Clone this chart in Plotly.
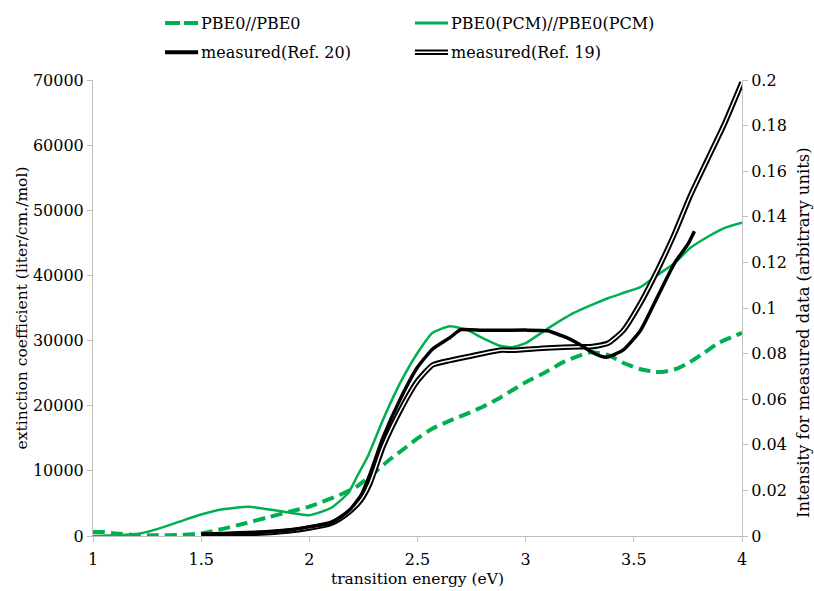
import plotly.graph_objects as go

# ---- data ----
pbe0_x = [1.0, 1.05, 1.1, 1.2, 1.3, 1.4, 1.5, 1.6, 1.71, 1.8, 1.94, 2.0, 2.14, 2.22, 2.3, 2.37,
          2.45, 2.5, 2.57, 2.65, 2.73, 2.8, 2.88, 2.94, 3.0, 3.1, 3.18, 3.25, 3.3, 3.38, 3.45,
          3.53, 3.6, 3.64, 3.7, 3.76, 3.82, 3.89, 4.0]
pbe0_y = [600, 600, 400, 150, 100, 150, 400, 1100, 2000, 2800, 4000, 4500, 6300, 7600, 9700, 11700,
          13700, 15000, 16500, 17700, 18800, 19800, 21200, 22400, 23600, 25300, 26800, 27700, 28200,
          27800, 26600, 25600, 25200, 25200, 25700, 26700, 28000, 29600, 31200]

pcm_x = [1.0, 1.1, 1.2, 1.3, 1.4, 1.5, 1.6, 1.72, 1.85, 2.0, 2.1, 2.18, 2.22, 2.27, 2.34, 2.42,
         2.5, 2.57, 2.65, 2.73, 2.8, 2.88, 2.94, 3.0, 3.1, 3.22, 3.3, 3.38, 3.45, 3.53, 3.61,
         3.69, 3.76, 3.84, 3.92, 4.0]
pcm_y = [0, 100, 300, 1100, 2200, 3300, 4100, 4500, 3900, 3200, 4300, 6600, 9100, 12200, 17800, 23500,
         28100, 31200, 32200, 31600, 30400, 29200, 29000, 29600, 31800, 34200, 35400, 36500, 37300,
         38200, 40100, 41900, 44200, 45900, 47300, 48100]

ref20_x = [1.5, 1.6, 1.7, 1.8, 1.9, 2.0, 2.1, 2.14, 2.19, 2.24, 2.28, 2.34, 2.42, 2.5, 2.57, 2.65,
           2.7, 2.8, 2.9, 3.0, 3.1, 3.19, 3.25, 3.3, 3.35, 3.38, 3.45, 3.53, 3.61, 3.69, 3.75, 3.78]
ref20_y = [0.0005, 0.0008, 0.0012, 0.0017, 0.0025, 0.004, 0.0058, 0.008, 0.0118, 0.018, 0.027, 0.043,
           0.060, 0.074, 0.082, 0.087, 0.0905, 0.0902, 0.0902, 0.0903, 0.0900, 0.087, 0.084, 0.081,
           0.0788, 0.0785, 0.0815, 0.090, 0.105, 0.120, 0.128, 0.1337]

ref19_x = [1.5, 1.6, 1.75, 1.9, 2.0, 2.1, 2.14, 2.19, 2.24, 2.28, 2.34, 2.42, 2.5, 2.57, 2.65, 2.73,
           2.88, 2.94, 3.1, 3.25, 3.3, 3.38, 3.45, 3.53, 3.61, 3.69, 3.76, 3.84, 3.92, 4.0]
ref19_y = [0.0004, 0.0007, 0.0012, 0.0022, 0.0035, 0.0055, 0.0075, 0.011, 0.016, 0.023, 0.039, 0.055,
           0.068, 0.075, 0.077, 0.0786, 0.0815, 0.0815, 0.0825, 0.083, 0.083, 0.0845, 0.090, 0.102,
           0.1167, 0.133, 0.149, 0.165, 0.181, 0.199]

legend_labels = ["PBE0//PBE0", "PBE0(PCM)//PBE0(PCM)", "measured(Ref. 20)", "measured(Ref. 19)"]

GREEN = "#00B050"
FONT = "DejaVu Serif"
AXIS_GREY = "#BFBFBF"
SM = 0.5

fig = go.Figure()
fig.add_trace(go.Scatter(x=pbe0_x, y=pbe0_y, mode="lines", line=dict(color=GREEN, width=4, dash="12px,6px", shape="spline", smoothing=SM), showlegend=False))
fig.add_trace(go.Scatter(x=pcm_x, y=pcm_y, mode="lines", line=dict(color=GREEN, width=2.5, shape="spline", smoothing=SM), showlegend=False))
fig.add_trace(go.Scatter(x=ref19_x, y=ref19_y, yaxis="y2", mode="lines", line=dict(color="black", width=5.5, shape="spline", smoothing=SM), showlegend=False))
fig.add_trace(go.Scatter(x=ref19_x, y=ref19_y, yaxis="y2", mode="lines", line=dict(color="white", width=1.5, shape="spline", smoothing=SM), showlegend=False))
fig.add_trace(go.Scatter(x=ref20_x, y=ref20_y, yaxis="y2", mode="lines", line=dict(color="black", width=3.5, shape="spline", smoothing=SM), showlegend=False))

# manual legend (2 x 2)
rows = [1.125, 1.125, 1.061, 1.061]
cols = [(0.111, 0.162), (0.496, 0.547), (0.111, 0.162), (0.496, 0.547)]
styles = [
    [dict(color=GREEN, width=4, dash="15px,4px")],
    [dict(color=GREEN, width=3)],
    [dict(color="black", width=4)],
    [dict(color="black", width=5.5), dict(color="white", width=1.5)],
]
for lab, yy, (x0, x1), sty in zip(legend_labels, rows, cols, styles):
    for s in sty:
        fig.add_shape(type="line", xref="paper", yref="paper", x0=x0, x1=x1, y0=yy, y1=yy, line=s)
    fig.add_annotation(text=lab, xref="paper", yref="paper", x=x1 + 0.002, y=yy, xanchor="left", yanchor="middle",
                       showarrow=False, font=dict(family=FONT, size=16, color="black"))

# right axis title (placed lower than centre, as in the original)
fig.add_annotation(text="Intensity for measured data (arbitrary units)", xref="paper", yref="paper",
                   x=1.0 + (803 - 742) / 649, y=(536 - 333) / 456, textangle=-90, showarrow=False,
                   xanchor="center", yanchor="middle", font=dict(family=FONT, size=16.4, color="black"))

axis_common = dict(showgrid=False, zeroline=False, showline=True, linecolor=AXIS_GREY, linewidth=1,
                   ticks="outside", ticklen=5, tickcolor=AXIS_GREY,
                   tickfont=dict(family=FONT, size=16, color="black"))

fig.update_layout(
    width=814, height=591,
    margin=dict(l=93, r=72, t=80, b=55),
    paper_bgcolor="white", plot_bgcolor="white",
    font=dict(family=FONT, size=16, color="black"),
    xaxis=dict(range=[1, 4], dtick=0.5, tick0=1, automargin=False, ticklabelstandoff=4,
               title=dict(text="transition energy (eV)", font=dict(family=FONT, size=15.5), standoff=4),
               **axis_common),
    yaxis=dict(range=[0, 70000], dtick=10000, tickformat="d", automargin=False,
               title=dict(text="extinction coefficient (liter/cm./mol)", font=dict(family=FONT, size=15.5), standoff=1),
               **axis_common),
    yaxis2=dict(range=[0, 0.2], dtick=0.02, overlaying="y", side="right", automargin=False,
                **axis_common),
)

fig.write_html("out.html")
